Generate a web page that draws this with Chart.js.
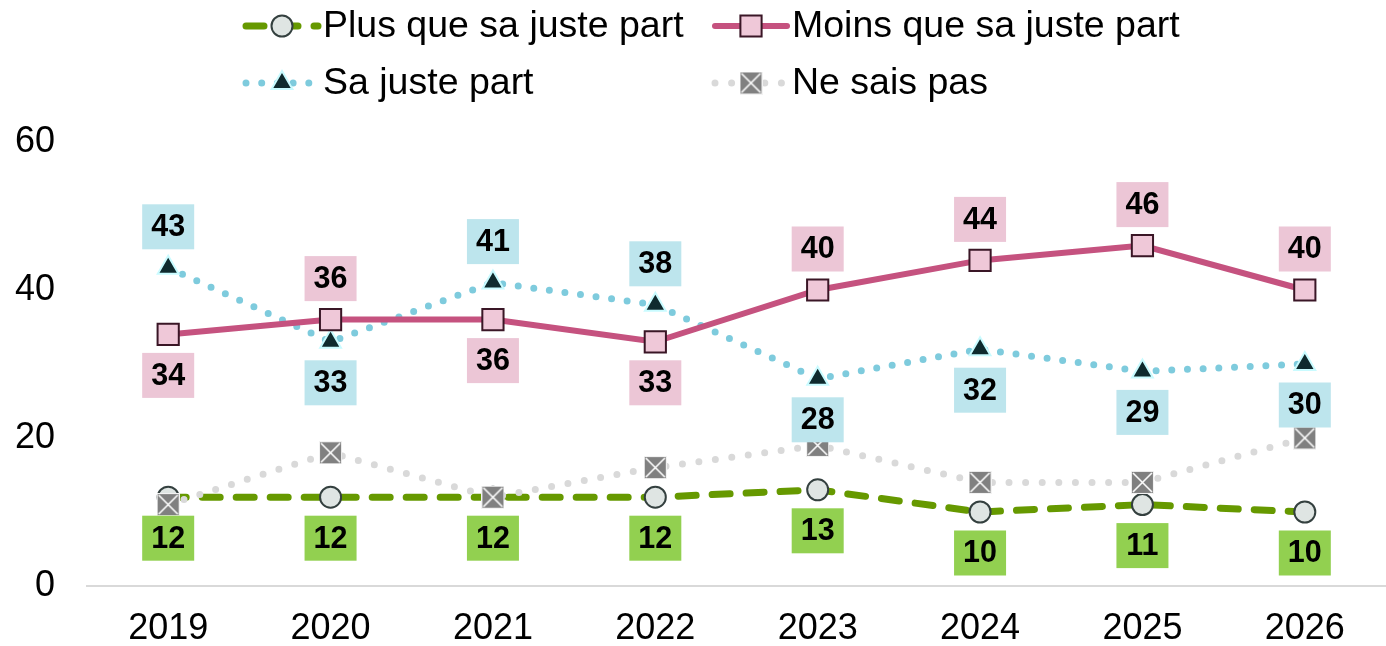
<!DOCTYPE html>
<html><head><meta charset="utf-8">
<script src="https://cdn.jsdelivr.net/npm/chart.js@4/dist/chart.umd.min.js"></script>
<style>html,body{margin:0;padding:0;background:#fff;overflow:hidden}canvas{display:block}</style>
</head><body><canvas id="c" width="1386" height="646"></canvas>
<script>
// ---- data ----
const categories = ['2019','2020','2021','2022','2023','2024','2025','2026'];
const plusQueSaJustePart = [12,12,12,12,13,10,11,10];
const moinsQueSaJustePart = [34,36,36,33,40,44,46,40];
const saJustePart = [43,33,41,38,28,32,29,30];
const neSaisPas = [11,18,12,16,19,14,14,20];
const yTickValues = [0,20,40,60];
const seriesNames = ['Plus que sa juste part','Moins que sa juste part','Sa juste part','Ne sais pas'];

// label placement (above / below the point)
const plusLabelSide  = ['b','b','b','b','b','b','b','b'];
const moinsLabelSide = ['b','a','b','b','a','a','a','a'];
const justeLabelSide = ['a','b','a','a','b','b','b','b'];

const FONT = '"Liberation Sans", Arial, sans-serif';

// custom marker for "Ne sais pas": grey box with white X
function makeXBox(size){
  const cv = document.createElement('canvas');
  cv.width = size; cv.height = size;
  const g = cv.getContext('2d');
  g.fillStyle = '#f2f2f2'; g.fillRect(0,0,size,size);
  g.fillStyle = '#808080'; g.fillRect(1,1,size-2,size-2);
  g.strokeStyle = '#ffffff'; g.lineWidth = 1.6;
  g.beginPath(); g.moveTo(2,2); g.lineTo(size-2,size-2); g.moveTo(size-2,2); g.lineTo(2,size-2); g.stroke();
  return cv;
}
const xBox = makeXBox(23);

const datasets = [
  { label: seriesNames[0], data: plusQueSaJustePart, borderColor:'#669900', borderWidth:7, borderDash:[18,16], borderCapStyle:'round',
    pointStyle:'circle', pointRadius:10.5, pointBackgroundColor:'#dfe5e3', pointBorderColor:'#34403f', pointBorderWidth:2,
    labelBg:'#92d050', labelSide: plusLabelSide, order:4 },
  { label: seriesNames[1], data: moinsQueSaJustePart, borderColor:'#c5527f', borderWidth:6,
    pointStyle:'rect', pointRadius:15, pointBackgroundColor:'#efc8d8', pointBorderColor:'#3a1626', pointBorderWidth:2,
    labelBg:'#ecc6d6', labelSide: moinsLabelSide, order:1 },
  { label: seriesNames[2], data: saJustePart, borderColor:'#7ecbdd', borderWidth:7, borderDash:[0,15.7], borderCapStyle:'round',
    pointStyle:'triangle', pointRadius:12, pointBackgroundColor:'#0f2a2e', pointBorderColor:'#c9fbff', pointBorderWidth:2,
    labelBg:'#bde5ed', labelSide: justeLabelSide, order:2 },
  { label: seriesNames[3], data: neSaisPas, borderColor:'#d9d9d9', borderWidth:7, borderDash:[0,16.6], borderCapStyle:'round',
    pointStyle:xBox, pointRadius:11, pointBackgroundColor:'#808080', pointBorderColor:'#ffffff', pointBorderWidth:0,
    labelBg:null, labelSide:null, order:3 }
];
datasets.forEach(d=>{ d.fill=false; d.tension=0; d.pointHoverRadius=d.pointRadius; d.clip=false; });

const labelPlugin = {
  id:'boxLabels',
  afterDatasetsDraw(chart){
    const ctx = chart.ctx;
    ctx.save();
    ctx.font = 'bold 30.5px ' + FONT;
    ctx.textAlign = 'center'; ctx.textBaseline = 'middle';
    chart.data.datasets.forEach((ds,i)=>{
      if(!ds.labelBg) return;
      const meta = chart.getDatasetMeta(i);
      meta.data.forEach((pt,j)=>{
        const cy = pt.y + (ds.labelSide[j]==='a' ? -41 : 41);
        ctx.fillStyle = ds.labelBg;
        ctx.fillRect(pt.x-26, cy-22.5, 52, 45);
        ctx.fillStyle = '#000';
        ctx.fillText(String(ds.data[j]), pt.x, cy+1);
      });
    });
    ctx.restore();
  }
};

const legendPlugin = {
  id:'gridLegend',
  afterDraw(chart){
    const ctx = chart.ctx;
    const pos = [[282,26],[751,26],[282,83],[751,83]];
    chart.data.datasets.forEach((ds,i)=>{
      const [cx,cy] = pos[i];
      ctx.save();
      ctx.strokeStyle = ds.borderColor; ctx.lineWidth = ds.borderWidth;
      ctx.lineCap = ds.borderCapStyle || 'round';
      ctx.setLineDash(ds.borderDash || []);
      ctx.beginPath(); ctx.moveTo(cx-36, cy); ctx.lineTo(cx+36, cy); ctx.stroke();
      ctx.setLineDash([]);
      ctx.fillStyle = ds.pointBackgroundColor; ctx.strokeStyle = ds.pointBorderColor; ctx.lineWidth = ds.pointBorderWidth;
      Chart.helpers.drawPoint(ctx, {pointStyle: ds.pointStyle, rotation:0, radius: ds.pointRadius, borderWidth: ds.pointBorderWidth}, cx, cy);
      ctx.fillStyle = '#000'; ctx.font = '37.5px ' + FONT;
      ctx.textAlign = 'left'; ctx.textBaseline = 'middle';
      ctx.fillText(ds.label, cx + 41, cy + 1);
      ctx.restore();
    });
  }
};

new Chart(document.getElementById('c'), {
  type:'line',
  data:{ labels: categories, datasets: datasets },
  options:{
    responsive:false, devicePixelRatio:1, animation:false,
    layout:{ autoPadding:false, padding:{ top:142, right:0, left:0, bottom:0 } },
    plugins:{ legend:{display:false}, tooltip:{enabled:false} },
    scales:{
      x:{ offset:true,
        grid:{ display:false, drawTicks:false },
        border:{ display:true, color:'#d9d9d9', width:2 },
        ticks:{ color:'#000', font:{ family:FONT, size:36 }, padding:21, maxRotation:0 },
        afterFit(s){ s.height = 60; s.paddingLeft = 0; s.paddingRight = 0; } },
      y:{ min:0, max:60,
        grid:{ display:false, drawTicks:false },
        border:{ display:false },
        afterBuildTicks(s){ s.ticks = yTickValues.map(v=>({value:v})); },
        ticks:{ color:'#000', font:{ family:FONT, size:36 }, padding:32 },
        afterFit(s){ s.width = 87; } }
    }
  },
  plugins:[labelPlugin, legendPlugin]
});
</script>
</body></html>
